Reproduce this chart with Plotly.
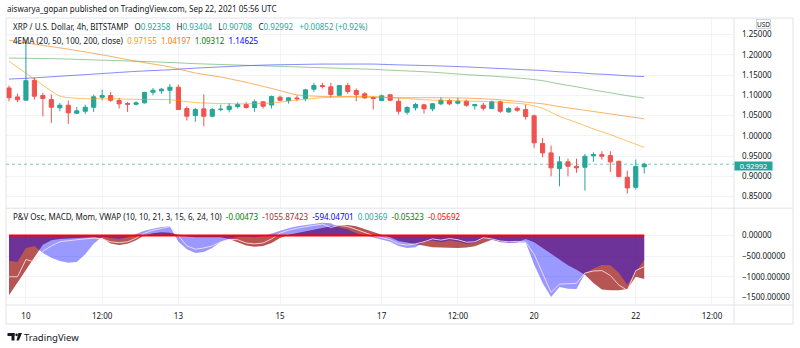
import pandas as pd
import plotly.graph_objects as go
from plotly.subplots import make_subplots

# ---------------- data ----------------
bar_start = "2021-09-09 16:00"
bar_count = 76

open_ = [1.118, 1.096, 1.088, 1.137, 1.0994, 1.0895, 1.069, 1.0755, 1.0557, 1.0606,
         1.0705, 1.0952, 1.0994, 1.087, 1.0796, 1.0779, 1.0813, 1.1075, 1.111, 1.1124,
         1.1199, 1.0673, 1.05, 1.0665, 1.0483, 1.0648, 1.0648, 1.072, 1.077, 1.0698,
         1.0838, 1.076, 1.0952, 1.087, 1.0932, 1.092, 1.115, 1.124, 1.1208, 1.100,
         1.124, 1.1117, 1.1036, 1.0944, 1.087, 1.1011, 1.0853, 1.0582, 1.069, 1.0764,
         1.0665, 1.079, 1.087, 1.0804, 1.0853, 1.074, 1.0755, 1.0673, 1.0838, 1.059,
         1.068, 1.0648, 1.0492, 0.9809, 0.9579, 0.9191, 0.9357, 0.9248, 0.9225, 0.9505,
         0.9537, 0.9512, 0.9372, 0.8977, 0.873, 0.92358]
high = [1.124, 1.104, 1.238, 1.143, 1.106, 1.102, 1.081, 1.087, 1.071, 1.077,
        1.102, 1.114, 1.108, 1.0937, 1.0838, 1.085, 1.1085, 1.118, 1.118, 1.128,
        1.1265, 1.073, 1.069, 1.102, 1.069, 1.077, 1.081, 1.083, 1.083, 1.0895,
        1.0853, 1.0994, 1.0994, 1.0952, 1.0994, 1.116, 1.1307, 1.1307, 1.1307, 1.125,
        1.1307, 1.1167, 1.1075, 1.0969, 1.102, 1.1036, 1.092, 1.073, 1.0813, 1.079,
        1.0813, 1.0952, 1.0911, 1.0937, 1.0895, 1.0772, 1.0813, 1.087, 1.087, 1.0705,
        1.073, 1.0772, 1.0525, 0.9949, 0.976, 0.9495, 0.9438, 0.9438, 0.9554, 0.9594,
        0.9619, 0.9619, 0.9389, 0.9142, 0.9414, 0.93404]
low = [1.085, 1.083, 1.0878, 1.0895, 1.048, 1.032, 1.0606, 1.0295, 1.054, 1.054,
       1.059, 1.0874, 1.0838, 1.0673, 1.059, 1.0745, 1.0796, 1.100, 1.1036, 1.079,
       1.0648, 1.0377, 1.0344, 1.0236, 1.0458, 1.0606, 1.058, 1.0673, 1.067, 1.059,
       1.0673, 1.0673, 1.0853, 1.0796, 1.0853, 1.0853, 1.1085, 1.1167, 1.0937, 1.0986,
       1.1036, 1.0853, 1.0912, 1.0648, 1.0853, 1.0853, 1.0525, 1.0525, 1.0623, 1.055,
       1.0606, 1.0754, 1.0754, 1.0772, 1.0714, 1.0648, 1.0623, 1.0673, 1.0566, 1.0566,
       1.0591, 1.040, 0.9702, 0.947, 0.9001, 0.8754, 0.9001, 0.9085, 0.8648, 0.9357,
       0.9414, 0.9111, 0.8977, 0.8574, 0.8673, 0.90708]
close = [1.094, 1.089, 1.136, 1.0977, 1.092, 1.0705, 1.0755, 1.0566, 1.0616, 1.0705,
         1.0962, 1.0994, 1.0878, 1.0789, 1.0779, 1.0813, 1.1068, 1.1124, 1.115, 1.1199,
         1.0648, 1.0483, 1.0648, 1.0483, 1.0648, 1.0656, 1.073, 1.077, 1.0698, 1.0838,
         1.073, 1.0969, 1.0878, 1.0937, 1.0916, 1.1134, 1.124, 1.1216, 1.1019, 1.124,
         1.1093, 1.1019, 1.0937, 1.092, 1.0986, 1.0878, 1.0606, 1.0698, 1.0772, 1.0665,
         1.079, 1.0878, 1.0789, 1.0853, 1.0755, 1.0772, 1.068, 1.0838, 1.0606, 1.0673,
         1.0631, 1.0475, 0.9826, 0.9579, 0.9209, 0.9357, 0.9248, 0.9209, 0.9495, 0.9537,
         0.9495, 0.9357, 0.8994, 0.8714, 0.9241, 0.92992]

ema_idx = [0, 3, 6, 9, 12, 15, 19, 22, 25, 28, 31, 34, 37, 40, 43, 46, 50, 54, 58,
           61, 63, 65, 67, 69, 71, 73, 75]
ema20 = [1.184, 1.140, 1.098, 1.0915, 1.0915, 1.090, 1.089, 1.082, 1.0796, 1.079,
         1.081, 1.088, 1.094, 1.097, 1.097, 1.093, 1.088, 1.086, 1.083, 1.078,
         1.068, 1.048, 1.033, 1.017, 1.003, 0.987, 0.97155]
ema50 = [1.236, 1.226, 1.217, 1.207, 1.196, 1.184, 1.170, 1.155, 1.145, 1.132,
         1.117, 1.101, 1.097, 1.096, 1.095, 1.094, 1.094, 1.093, 1.089, 1.083,
         1.079, 1.072, 1.066, 1.060, 1.054, 1.048, 1.04197]
ema100 = [1.192, 1.191, 1.190, 1.188, 1.186, 1.184, 1.181, 1.178, 1.176, 1.174,
          1.172, 1.170, 1.168, 1.166, 1.164, 1.161, 1.157, 1.151, 1.146, 1.141,
          1.136, 1.128, 1.121, 1.113, 1.106, 1.099, 1.09312]
ema200 = [1.140, 1.143, 1.147, 1.151, 1.155, 1.159, 1.163, 1.167, 1.170, 1.173,
          1.175, 1.176, 1.177, 1.177, 1.177, 1.175, 1.173, 1.170, 1.166, 1.163,
          1.161, 1.158, 1.156, 1.153, 1.151, 1.148, 1.14625]

osc_red = [-1450, -1140, -830, -520, -220, -110, -80, -70, -60, -50,
           -40, -60, -190, -230, -200, -110, 10, 60, 80, 70,
           30, -20, -40, -40, -30, -40, -80, -160, -240, -270,
           -250, -180, -60, 20, 60, 100, 150, 190, 230, 250,
           260, 230, 160, 80, 20, -40, -130, -170, -210, -250,
           -280, -290, -300, -300, -290, -260, -180, -100, -140, -170,
           -160, -80, -160, -300, -450, -600, -720, -830, -950, -1150,
           -1310, -1330, -1330, -1300, -1000, -1055.87]
osc_blue = [-610, -640, -300, -250, -420, -540, -620, -660, -640, -450,
            -200, -30, -60, -80, -40, 40, 120, 170, 210, 230,
            -150, -330, -420, -400, -300, -150, -80, -30, -20, -40,
            -10, 50, 120, 180, 230, 260, 280, 310, 300, 200,
            150, 60, 10, -40, -100, -150, -250, -300, -280, -150,
            -120, -160, -110, -140, -200, -180, -60, -90, -160, -180,
            -170, -170, -700, -1150, -1490, -1250, -1290, -1300, -920, -800,
            -715, -720, -900, -1200, -880, -594.05]
osc_line = [-1000, -1000, -580, -640, -380, -250, -150, -120, -100, -80,
            -60, -80, -150, -170, -150, -60, 60, 130, 180, 220,
            0, -250, -330, -300, -250, -150, -90, -100, -180, -200,
            -180, -80, 60, 130, 180, 220, 250, 280, 200, 250,
            220, 150, 70, 0, -50, -100, -200, -230, -200, -150,
            -80, -110, -70, -100, -160, -150, -50, -80, -130, -150,
            -140, -160, -450, -900, -1380, -1180, -1170, -1160, -910, -860,
            -850, -970, -1200, -1330, -850, -756]
small_osc_idx = [0, 75]
small_osc_vals = [-0.05692, -0.05692]

x_tick_times = ["2021-09-10 00:00", "2021-09-11 12:00", "2021-09-13 00:00",
                "2021-09-15 00:00", "2021-09-17 00:00", "2021-09-18 12:00",
                "2021-09-20 00:00", "2021-09-22 00:00", "2021-09-23 12:00"]
x_tick_text = ["10", "12:00", "13", "15", "17", "12:00", "20", "22", "12:00"]
price_ticks = [0.85, 0.90, 0.95, 1.00, 1.05, 1.10, 1.15, 1.20, 1.25]
osc_ticks = [0, -500, -1000, -1500]

# ---------------- figure ----------------
FONT = "Noto Sans"
TXT = "#131722"
UP = "#26a69a"
DOWN = "#ef5350"
GRID = "#f0f3fa"
BORDER = "#e0e3eb"

times = pd.date_range(bar_start, periods=bar_count, freq="4h")
bar = pd.Timedelta(hours=4)
x_range = [times[0] - 0.354 * bar, times[0] + 85.6 * bar]
ema_x = [times[i] for i in ema_idx]

fig = make_subplots(rows=2, cols=1, shared_xaxes=True, vertical_spacing=0,
                    row_heights=[0.6627, 0.3373])

fig.add_trace(go.Candlestick(
    x=times, open=open_, high=high, low=low, close=close,
    increasing=dict(line=dict(color=UP, width=1), fillcolor=UP),
    decreasing=dict(line=dict(color=DOWN, width=1), fillcolor=DOWN),
    whiskerwidth=0, showlegend=False, hoverinfo="skip"), row=1, col=1)

for vals, col in [(ema200, "rgba(40,40,240,0.55)"), (ema100, "rgba(30,140,30,0.45)"),
                  (ema50, "rgba(245,124,0,0.6)"), (ema20, "rgba(255,152,0,0.6)")]:
    fig.add_trace(go.Scatter(x=ema_x, y=vals, mode="lines",
                             line=dict(color=col, width=1, shape="spline", smoothing=0.6),
                             showlegend=False, hoverinfo="skip"), row=1, col=1)

fig.add_trace(go.Scatter(x=times, y=osc_red, mode="lines", fill="tozeroy",
                         fillcolor="rgba(165,42,42,0.8)", line=dict(width=0, color="rgba(165,42,42,0.8)"),
                         showlegend=False, hoverinfo="skip"), row=2, col=1)
fig.add_trace(go.Scatter(x=times, y=osc_blue, mode="lines", fill="tozeroy",
                         fillcolor="rgba(0,0,255,0.4)", line=dict(width=0, color="rgba(0,0,255,0.4)"),
                         showlegend=False, hoverinfo="skip"), row=2, col=1)
fig.add_trace(go.Scatter(x=times, y=osc_line, mode="lines",
                         line=dict(color="rgba(255,225,225,0.85)", width=1),
                         showlegend=False, hoverinfo="skip"), row=2, col=1)
fig.add_trace(go.Scatter(x=[times[i] for i in small_osc_idx], y=small_osc_vals, mode="lines",
                         line=dict(color="#ff0000", width=2),
                         showlegend=False, hoverinfo="skip"), row=2, col=1)

axis_font = dict(family=FONT, size=8, color=TXT)
fig.update_xaxes(range=x_range, tickvals=x_tick_times, ticktext=x_tick_text,
                 showgrid=True, gridcolor=GRID, gridwidth=1, zeroline=False,
                 showline=False, ticks="", tickfont=axis_font,
                 rangeslider=dict(visible=False))
fig.update_xaxes(showticklabels=False, row=1, col=1)
fig.update_xaxes(showticklabels=True, ticklabelstandoff=5, row=2, col=1)

fig.update_yaxes(side="right", showgrid=True, gridcolor=GRID, zeroline=False,
                 showline=False, ticks="", tickfont=axis_font, ticklabelstandoff=7)
fig.update_yaxes(range=[0.8214, 1.2907], tickvals=price_ticks, tickformat=".5f", row=1, col=1)
fig.update_yaxes(range=[-1687, 667], tickvals=osc_ticks, tickformat=".5f", row=2, col=1)

def pxx(p):
    return (p - 6) / 728.0

def pxy(p):
    return (305 - p) / 286.7

shapes = []
line_style = dict(color=BORDER, width=1)
# outer frame & separators
shapes.append(dict(type="rect", xref="paper", yref="paper", x0=pxx(6), x1=pxx(793),
                   y0=pxy(324), y1=pxy(18.3), line=line_style, layer="above"))
shapes.append(dict(type="line", xref="paper", yref="paper", x0=1, x1=1,
                   y0=pxy(324), y1=pxy(18.3), line=line_style, layer="above"))
shapes.append(dict(type="line", xref="paper", yref="paper", x0=pxx(6), x1=pxx(793),
                   y0=0, y1=0, line=line_style, layer="above"))
shapes.append(dict(type="line", xref="paper", yref="paper", x0=pxx(6), x1=pxx(793),
                   y0=pxy(208.3), y1=pxy(208.3), line=line_style, layer="above"))
# last price dashed line
shapes.append(dict(type="line", xref="paper", yref="y", x0=0, x1=1,
                   y0=close[-1], y1=close[-1],
                   line=dict(color="rgba(38,166,154,0.6)", width=1, dash="dot")))
# TradingView logo glyph
shapes.append(dict(type="rect", xref="paper", yref="paper", x0=pxx(7.5), x1=pxx(14.5),
                   y0=pxy(336), y1=pxy(333), fillcolor=TXT, line=dict(width=0)))
shapes.append(dict(type="rect", xref="paper", yref="paper", x0=pxx(11.5), x1=pxx(14.5),
                   y0=pxy(340.5), y1=pxy(333), fillcolor=TXT, line=dict(width=0)))
shapes.append(dict(type="circle", xref="paper", yref="paper", x0=pxx(15.3), x1=pxx(17.9),
                   y0=pxy(336.2), y1=pxy(333.4), fillcolor=TXT, line=dict(width=0)))
shapes.append(dict(type="path", xref="paper", yref="paper",
                   path=f"M {pxx(18.5)} {pxy(333)} L {pxx(22)} {pxy(333)} L {pxx(18.8)} {pxy(340.5)} L {pxx(16.5)} {pxy(340.5)} Z",
                   fillcolor=TXT, line=dict(width=0)))

NB = "\u00a0"
teal = UP
hdr2 = ("XRP / U.S. Dollar, 4h, BITSTAMP" + NB * 3 +
        f"O<span style='color:{teal}'>0.92358</span>" + NB * 3 +
        f"H<span style='color:{teal}'>0.93404</span>" + NB * 3 +
        f"L<span style='color:{teal}'>0.90708</span>" + NB * 3 +
        f"C<span style='color:{teal}'>0.92992</span>" + NB * 3 +
        f"<span style='color:{teal}'>+0.00852 (+0.92%)</span>")
hdr3 = ("4EMA (20, 50, 100, 200, close)" + NB * 2 +
        "<span style='color:#ff9800'>0.97155</span>" + NB * 2 +
        "<span style='color:#f57c00'>1.04197</span>" + NB * 2 +
        "<span style='color:#008000'>1.09312</span>" + NB * 2 +
        "<span style='color:#0000ff'>1.14625</span>")
hdr4 = ("P&amp;V Osc, MACD, Mom, VWAP (10, 10, 21, 3, 15, 6, 24, 10)" + NB * 2 +
        "<span style='color:#008000'>-0.00473</span>" + NB * 2 +
        "<span style='color:#a52a2a'>-1055.87423</span>" + NB * 2 +
        "<span style='color:#0000ff'>-594.04701</span>" + NB * 2 +
        f"<span style='color:{teal}'>0.00369</span>" + NB * 2 +
        "<span style='color:#008000'>-0.05323</span>" + NB * 2 +
        "<span style='color:#ff0000'>-0.05692</span>")

hfont = dict(family=FONT, size=8, color=TXT)
annotations = [
    dict(text="aiswarya_gopan published on TradingView.com, Sep 22, 2021 05:56 UTC",
         x=pxx(5), y=pxy(9), font=dict(family=FONT, size=8, color=TXT)),
    dict(text=hdr2, x=pxx(11), y=pxy(27), font=hfont),
    dict(text=hdr3, x=pxx(11), y=pxy(41), font=hfont),
    dict(text=hdr4, x=pxx(11), y=pxy(217), font=hfont),
    dict(text="TradingView", x=pxx(22), y=pxy(337),
         font=dict(family=FONT, size=9.5, color=TXT)),
]
for a in annotations:
    a.update(xref="paper", yref="paper", xanchor="left", yanchor="middle",
             showarrow=False, align="left")

annotations.append(dict(text="0.92992", xref="paper", yref="y", x=1, y=close[-1],
                        xanchor="left", yanchor="middle", showarrow=False, yshift=-2,
                        bgcolor=UP, font=dict(family=FONT, size=7.5, color="white"),
                        width=37, height=8, align="center", valign="middle", borderpad=0))
annotations.append(dict(text="USD", xref="paper", yref="paper", x=pxx(756), y=pxy(24.5),
                        xanchor="left", yanchor="middle", showarrow=False,
                        bgcolor="white", bordercolor="#d1d4dc", borderwidth=1,
                        font=dict(family=FONT, size=6.5, color=TXT), height=8, borderpad=0))

fig.update_layout(
    width=800, height=348, autosize=False,
    margin=dict(l=6, r=66, t=18, b=43, pad=0),
    paper_bgcolor="white", plot_bgcolor="white",
    shapes=shapes, annotations=annotations,
    font=dict(family=FONT, size=8, color=TXT),
    showlegend=False, hovermode=False,
)

fig.write_html("out.html", config={"displayModeBar": False})
